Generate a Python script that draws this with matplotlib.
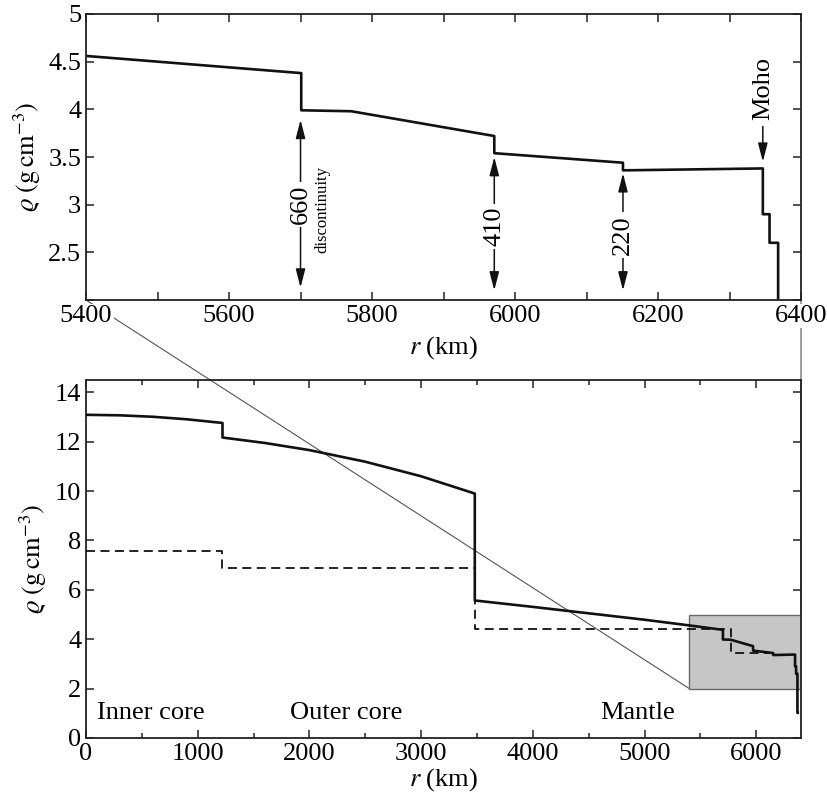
import matplotlib
matplotlib.use('Agg')
import matplotlib.pyplot as plt
from matplotlib.patches import Rectangle, ConnectionPatch
from matplotlib.ticker import MultipleLocator, FormatStrFormatter

plt.rcParams['font.family'] = ['Liberation Serif', 'DejaVu Serif']
plt.rcParams['mathtext.fontset'] = 'stix'

# density profile (solid line), r in km, rho in g/cm^3
r_prem = [0, 300, 600, 900, 1221.5, 1221.5, 1600, 2000, 2500, 3000, 3480,
          3480, 4000, 4500, 5000, 5400, 5701, 5701, 5771, 5971, 5971, 6151,
          6151, 6346.6, 6346.6, 6356, 6356, 6368, 6368, 6371]
rho_prem = [13.09, 13.07, 13.01, 12.91, 12.76, 12.17, 11.95, 11.66, 11.19, 10.60, 9.90,
            5.57, 5.31, 5.05, 4.79, 4.56, 4.38, 3.99, 3.98, 3.72, 3.54, 3.44,
            3.36, 3.38, 2.90, 2.90, 2.60, 2.60, 1.02, 1.02]

# dashed profile
r_dash = [0, 1221.5, 1221.5, 3480, 3480, 5771, 5771, 6151]
rho_dash = [7.58, 7.58, 6.90, 6.90, 4.40, 4.40, 3.45, 3.45]

# discontinuity markers in the zoomed panel: r, label, text y, arrow top, arrow bottom
disc_r = [5700, 5971, 6151]
disc_lab = ['660', '410', '220']
disc_ytext = [3.0, 2.77, 2.68]
disc_ytop = [3.89, 3.50, 3.33]
disc_ybot = [2.13, 2.10, 2.10]

regions = ['Inner core', 'Outer core', 'Mantle']
region_r = [100, 1830, 4600]

zoom_r = (5400, 6400)
zoom_rho = (2, 5)

fig = plt.figure(figsize=(8.28, 8.0), dpi=100)
ax2 = fig.add_axes([0.1039, 0.0775, 0.8635, 0.4475])
ax1 = fig.add_axes([0.1039, 0.625, 0.8635, 0.3575])

ylab = r'$\varrho\ (\mathrm{g\,cm^{-3}})$'
xlab = r'$r$ (km)'
lc = '#111111'
fs = 19

for ax in (ax1, ax2):
    for s in ax.spines.values():
        s.set_linewidth(1.3)
        s.set_color('#222222')
    ax.tick_params(which='both', direction='in', top=True, right=True,
                   labelsize=fs, width=1.1, color='#222222')
    ax.tick_params(which='major', length=6)
    ax.tick_params(which='minor', length=3.5)
    ax.set_ylabel(ylab, fontsize=fs, labelpad=4)
ax1.set_xlabel(xlab, fontsize=fs, labelpad=5)
ax2.set_xlabel(xlab, fontsize=fs, labelpad=1)

# bottom: whole Earth
ax2.plot(r_prem, rho_prem, color=lc, lw=1.9, zorder=4)
ax2.plot(r_dash, rho_dash, color=lc, lw=1.3, ls=(0, (5, 3)), zorder=3)
ax2.add_patch(Rectangle((zoom_r[0], zoom_rho[0]), zoom_r[1] - zoom_r[0],
                        zoom_rho[1] - zoom_rho[0], facecolor='#c6c6c6',
                        edgecolor='#6a6a6a', lw=1.0, zorder=2))
ax2.set_xlim(0, 6400)
ax2.set_ylim(0, 14.5)
ax2.xaxis.set_major_locator(MultipleLocator(1000))
ax2.xaxis.set_minor_locator(MultipleLocator(500))
ax2.yaxis.set_major_locator(MultipleLocator(2))
for name, x in zip(regions, region_r):
    ax2.text(x, 1.0, name, fontsize=fs, ha='left', va='center')

# top: zoom on the upper mantle
ax1.plot(r_prem, rho_prem, color=lc, lw=1.9)
ax1.set_xlim(*zoom_r)
ax1.set_ylim(*zoom_rho)
ax1.xaxis.set_major_locator(MultipleLocator(200))
ax1.xaxis.set_minor_locator(MultipleLocator(100))
ax1.tick_params(which='minor', length=6)
ax1.set_yticks([2.5, 3, 3.5, 4, 4.5, 5])
ax1.yaxis.set_minor_locator(MultipleLocator(0.5))
ax1.yaxis.set_major_formatter(FormatStrFormatter('%g'))

arr = dict(arrowstyle='<|-|>,head_length=0.7,head_width=0.18', color=lc,
           lw=1.1, shrinkA=0, shrinkB=0, mutation_scale=16)
for x, lab, yt, ytop, ybot in zip(disc_r, disc_lab, disc_ytext, disc_ytop, disc_ybot):
    ax1.annotate('', xy=(x, ytop), xytext=(x, ybot), arrowprops=arr)
    ax1.text(x, yt, lab, rotation=90, fontsize=fs, ha='center', va='center',
             bbox=dict(fc='white', ec='none', pad=2))
ax1.text(5731, 2.95, 'discontinuity', rotation=90, fontsize=12,
         ha='center', va='center')

ax1.text(6346.6, 4.22, 'Moho', rotation=90, fontsize=fs, ha='center', va='center')
ax1.annotate('', xy=(6346.6, 3.45), xytext=(6346.6, 3.82),
             arrowprops=dict(arrowstyle='-|>,head_length=0.7,head_width=0.18',
                             color=lc, lw=1.1, shrinkA=0, shrinkB=0,
                             mutation_scale=16))

# connector lines from zoom panel to shaded box
for xa, ya, xb, yb in [(zoom_r[0], zoom_rho[0], zoom_r[0], zoom_rho[0]),
                       (zoom_r[1], zoom_rho[0], zoom_r[1], zoom_rho[1])]:
    con = ConnectionPatch(xyA=(xa, ya), coordsA=ax1.transData,
                          xyB=(xb, yb), coordsB=ax2.transData,
                          color='#555555', lw=0.8)
    con.set_clip_on(False)
    ax2.add_artist(con)

fig.canvas.draw()
for lab in ax1.get_xticklabels():
    lab.set_bbox(dict(fc='white', ec='none', pad=1))

fig.savefig('out.png', dpi=100)
